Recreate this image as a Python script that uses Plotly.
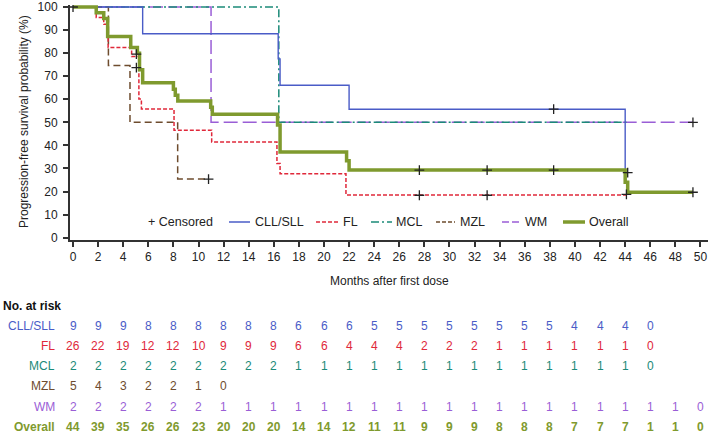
import plotly.graph_objects as go

# ---------------- data ----------------
months_ticks = list(range(0, 51, 2))

cll_t = [0, 5.55, 16.35, 16.5, 22.0, 44.0, 44.2]
cll_s = [100, 88.4, 77.5, 66.1, 55.7, 27.8, 27.8]

fl_t = [0, 1.85, 2.45, 2.8, 4.67, 5.25, 5.45, 8.05, 11.05, 16.25, 16.5, 21.75, 44.1]
fl_s = [100, 95.5, 92.5, 82.4, 78.5, 60.1, 55.8, 46.6, 41.5, 32.2, 27.7, 18.5, 18.5]

mcl_t = [0, 16.4, 44.1]
mcl_s = [100, 50, 50]

mzl_t = [0, 2.82, 4.54, 8.34, 10.8]
mzl_s = [100, 74.6, 50, 25.4, 25.4]

wm_t = [0, 11.0, 49.4]
wm_s = [100, 50, 50]

overall_t = [0, 1.85, 2.45, 2.76, 4.6, 5.13, 5.3, 5.55, 8.0, 8.15, 8.35, 10.97, 11.1,
             16.3, 16.5, 21.8, 22.0, 44.0, 44.2, 49.4]
overall_s = [100, 97.5, 95.0, 87.2, 82.5, 80.0, 72.8, 67.2, 64.3, 61.7, 59.3, 56.5, 53.5,
             48.8, 37.1, 33.4, 29.3, 24.0, 19.7, 19.7]

censor_t = [0, 5.05, 5.05, 10.8, 27.6, 27.6, 33.0, 33.0, 38.3, 38.3, 44.2, 44.1, 49.4, 49.4]
censor_s = [100, 79.6, 73.7, 25.4, 18.4, 29.3, 18.4, 29.3, 55.7, 29.3, 28.2, 18.8, 50, 19.7]

risk_labels = ["CLL/SLL", "FL", "MCL", "MZL", "WM", "Overall"]
risk_cll = [9, 9, 9, 8, 8, 8, 8, 8, 8, 6, 6, 6, 5, 5, 5, 5, 5, 5, 5, 5, 4, 4, 4, 0]
risk_fl = [26, 22, 19, 12, 12, 10, 9, 9, 9, 6, 6, 4, 4, 4, 2, 2, 2, 1, 1, 1, 1, 1, 1, 0]
risk_mcl = [2, 2, 2, 2, 2, 2, 2, 2, 2, 1, 1, 1, 1, 1, 1, 1, 1, 1, 1, 1, 1, 1, 1, 0]
risk_mzl = [5, 4, 3, 2, 2, 1, 0]
risk_wm = [2, 2, 2, 2, 2, 2, 1, 1, 1, 1, 1, 1, 1, 1, 1, 1, 1, 1, 1, 1, 1, 1, 1, 1, 1, 0]
risk_overall = [44, 39, 35, 26, 26, 23, 20, 20, 20, 14, 14, 12, 11, 11, 9, 9, 9, 8, 8, 8,
                7, 7, 7, 1, 1, 0]

# ---------------- styles ----------------
C_CLL = "#4a5cc7"
C_FL = "#e0283a"
C_MCL = "#1b8a78"
C_MZL = "#6e4c2e"
C_WM = "#9a5ed6"
C_OV = "#7f9a2e"
FONT = "Liberation Sans, Arial, sans-serif"
TXT = "#222222"

series = [
    ("WM", wm_t, wm_s, C_WM, 1.5, "14px,5px"),
    ("MCL", mcl_t, mcl_s, C_MCL, 1.5, "8px,3px,2px,3px"),
    ("MZL", mzl_t, mzl_s, C_MZL, 1.5, "7px,4px"),
    ("FL", fl_t, fl_s, C_FL, 1.5, "4px,2px"),
    ("CLL/SLL", cll_t, cll_s, C_CLL, 1.4, "solid"),
    ("Overall", overall_t, overall_s, C_OV, 3.5, "solid"),
]

fig = go.Figure()
for name, t, s, col, w, dash in series:
    fig.add_trace(go.Scatter(x=t, y=s, mode="lines", line_shape="hv", name=name,
                             line=dict(color=col, width=w, dash=dash),
                             showlegend=False, hoverinfo="skip"))
fig.add_trace(go.Scatter(x=censor_t, y=censor_s, mode="markers", name="Censored",
                         marker=dict(symbol="cross-thin", size=7,
                                     line=dict(color="#222", width=1.3)),
                         showlegend=False, hoverinfo="skip"))

# plot-area geometry (px) helpers for decorations
L, R, T, B = 70, 1, 5, 195
W, H = 709, 435
PW, PH = W - L - R, H - T - B


def px_x(px):
    return (px - L) / PW


def px_y(py):
    return (H - B - py) / PH


annotations = []
shapes = []

# legend (manual, inside plot)
ly = px_y(222)
annotations.append(dict(text="+ Censored", x=px_x(146), y=ly, xref="paper", yref="paper",
                        xanchor="left", yanchor="middle", showarrow=False,
                        font=dict(family=FONT, size=12.5, color=TXT)))
leg_items = [
    ("CLL/SLL", C_CLL, 1.5, "solid", 229, 250, 253),
    ("FL", C_FL, 1.5, "4px,2px", 316, 338, 341),
    ("MCL", C_MCL, 1.5, "8px,3px,2px,3px", 371, 392, 394),
    ("MZL", C_MZL, 1.5, "4px,2px", 436, 455, 458),
    ("WM", C_WM, 1.5, "7px,3px", 502, 521, 523),
    ("Overall", C_OV, 3.5, "solid", 563, 585, 587),
]
for name, col, w, dash, x0, x1, xt in leg_items:
    shapes.append(dict(type="line", xref="paper", yref="paper", x0=px_x(x0), x1=px_x(x1),
                       y0=ly, y1=ly, line=dict(color=col, width=w, dash=dash)))
    annotations.append(dict(text=name, x=px_x(xt), y=ly, xref="paper", yref="paper",
                            xanchor="left", yanchor="middle", showarrow=False,
                            font=dict(family=FONT, size=12.5, color=TXT)))

# axis titles
annotations.append(dict(text="Months after first dose", x=px_x(389), y=px_y(281),
                        xref="paper", yref="paper", xanchor="center", yanchor="middle",
                        showarrow=False, font=dict(family=FONT, size=12, color=TXT)))
annotations.append(dict(text="Progression-free survival probability (%)", x=px_x(24),
                        y=px_y(122), xref="paper", yref="paper", xanchor="center",
                        yanchor="middle", textangle=-90, showarrow=False,
                        font=dict(family=FONT, size=12, color=TXT)))

# risk table
annotations.append(dict(text="<b>No. at risk</b>", x=px_x(1), y=px_y(306), xref="paper",
                        yref="paper", xanchor="left", yanchor="middle", showarrow=False,
                        font=dict(family=FONT, size=12, color="#111")))
risk_rows = [
    ("CLL/SLL", risk_cll, C_CLL, 326, False),
    ("FL", risk_fl, C_FL, 346, False),
    ("MCL", risk_mcl, C_MCL, 366, False),
    ("MZL", risk_mzl, C_MZL, 386, False),
    ("WM", risk_wm, C_WM, 406.5, False),
    ("Overall", risk_overall, C_OV, 426.5, True),
]
for label, vals, col, py, bold in risk_rows:
    lab = f"<b>{label}</b>" if bold else label
    annotations.append(dict(text=lab, x=px_x(57), y=px_y(py), xref="paper", yref="paper",
                            xanchor="right", yanchor="middle", showarrow=False,
                            font=dict(family=FONT, size=12, color=col)))
    for m, v in zip(months_ticks, vals):
        txt = f"<b>{v}</b>" if bold else str(v)
        annotations.append(dict(text=txt, x=m, y=px_y(py), xref="x", yref="paper",
                                xanchor="center", yanchor="middle", showarrow=False,
                                font=dict(family=FONT, size=12, color=col)))

fig.update_layout(
    width=W, height=H,
    margin=dict(l=L, r=R, t=T, b=B, pad=0),
    paper_bgcolor="white", plot_bgcolor="white",
    showlegend=False,
    font=dict(family=FONT, size=12, color=TXT),
    annotations=annotations, shapes=shapes,
)
fig.update_xaxes(range=[-0.24, 50.6], tickmode="array", tickvals=months_ticks,
                 ticktext=[str(m) for m in months_ticks],
                 showline=True, linecolor="#333", linewidth=2, ticks="outside",
                 ticklen=5, tickwidth=1.5, tickcolor="#333", showgrid=False,
                 zeroline=False, ticklabeloverflow="allow",
                 tickfont=dict(family=FONT, size=12, color=TXT))
fig.update_yaxes(range=[-1.0, 100.87], tickvals=list(range(0, 101, 10)),
                 showline=True, linecolor="#333", linewidth=2, ticks="outside",
                 ticklen=5, tickwidth=1.5, tickcolor="#333", showgrid=False,
                 zeroline=False, ticklabelstandoff=3,
                 tickfont=dict(family=FONT, size=12, color=TXT))

fig.write_html("out.html", config={"displayModeBar": False},
               post_script="document.body.style.margin='0';document.body.style.overflow='hidden';")
